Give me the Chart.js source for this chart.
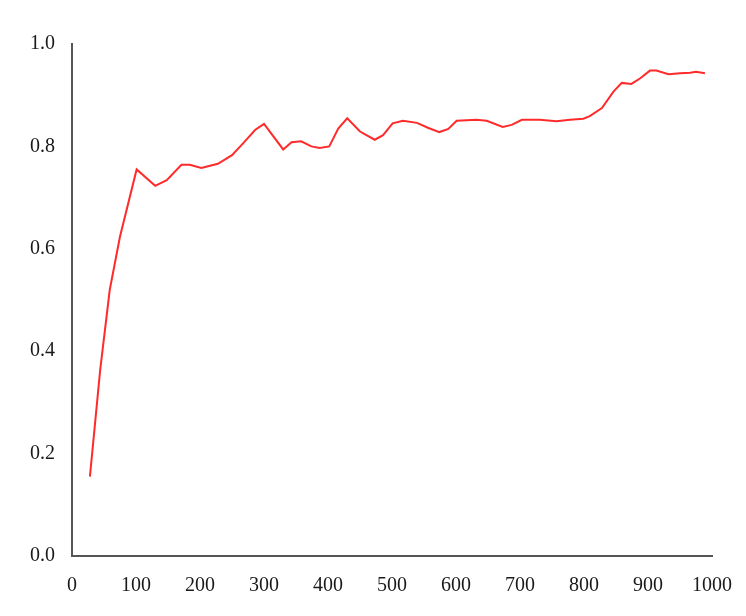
<!DOCTYPE html>
<html lang="en">
<head>
    <meta charset="UTF-8">
    <title>Curve</title>
    <script src="https://cdn.jsdelivr.net/npm/chart.js"></script>
    <style>
        body {
            margin: 0;
            background: white;
        }
        .wrap {
            width: 746px;
            height: 616px;
        }
    </style>
</head>
<body>
<div class="wrap">
    <canvas id="curveChart" width="746" height="616"></canvas>
</div>

<script>
// values
const xValues = [28, 44, 59, 75, 101, 130, 148, 171, 184, 202, 228, 250, 268, 286, 300,
    330, 343, 358, 374, 387, 402, 416, 430, 450, 473, 486, 501, 517, 539, 557, 574, 588,
    601, 632, 648, 673, 687, 703, 731, 757, 778, 799, 809, 828, 846, 859, 874, 888, 903,
    913, 932, 950, 966, 975, 989];
const yValues = [0.155, 0.363, 0.52, 0.624, 0.755, 0.723, 0.734, 0.764, 0.764, 0.758, 0.766,
    0.783, 0.807, 0.832, 0.844, 0.794, 0.808, 0.81, 0.8, 0.797, 0.8, 0.835, 0.855, 0.829,
    0.813, 0.822, 0.845, 0.85, 0.846, 0.836, 0.828, 0.834, 0.85, 0.852, 0.85, 0.838, 0.842,
    0.852, 0.852, 0.849, 0.852, 0.854, 0.859, 0.875, 0.907, 0.924, 0.922, 0.933, 0.948,
    0.948, 0.941, 0.943, 0.944, 0.946, 0.943];
const xTicks = [0, 100, 200, 300, 400, 500, 600, 700, 800, 900, 1000];
const yTicks = [0, 0.2, 0.4, 0.6, 0.8, 1.0];

const points = xValues.map((x, i) => ({ x: x, y: yValues[i] }));
const tickFont = { family: "'Liberation Serif', 'DejaVu Serif', serif", size: 20 };

const ctx = document.getElementById('curveChart').getContext('2d');
new Chart(ctx, {
    type: 'line',
    data: {
        datasets: [{
            data: points,
            borderColor: '#ff2b2b',
            borderWidth: 2,
            pointRadius: 0,
            fill: false,
            tension: 0
        }]
    },
    options: {
        responsive: false,
        animation: false,
        layout: { padding: { left: 0, top: 44, right: 34, bottom: 0 } },
        plugins: {
            legend: { display: false },
            tooltip: { enabled: false }
        },
        scales: {
            x: {
                type: 'linear',
                min: 0,
                max: 1000,
                afterFit: s => { s.height = 60; s.paddingRight = 0; },
                afterBuildTicks: s => { s.ticks = xTicks.map(v => ({ value: v })); },
                grid: { display: false, drawTicks: false },
                border: { display: true, color: '#555', width: 2 },
                ticks: {
                    color: '#1a1a1a',
                    font: tickFont,
                    padding: 18,
                    maxRotation: 0,
                    callback: v => String(v)
                }
            },
            y: {
                min: 0,
                max: 1,
                afterFit: s => { s.width = 72; },
                afterBuildTicks: s => { s.ticks = yTicks.map(v => ({ value: v })); },
                grid: { display: false, drawTicks: false },
                border: { display: true, color: '#555', width: 2 },
                ticks: {
                    color: '#1a1a1a',
                    font: tickFont,
                    padding: 17,
                    callback: v => v.toFixed(1)
                }
            }
        }
    }
});
</script>
</body>
</html>
